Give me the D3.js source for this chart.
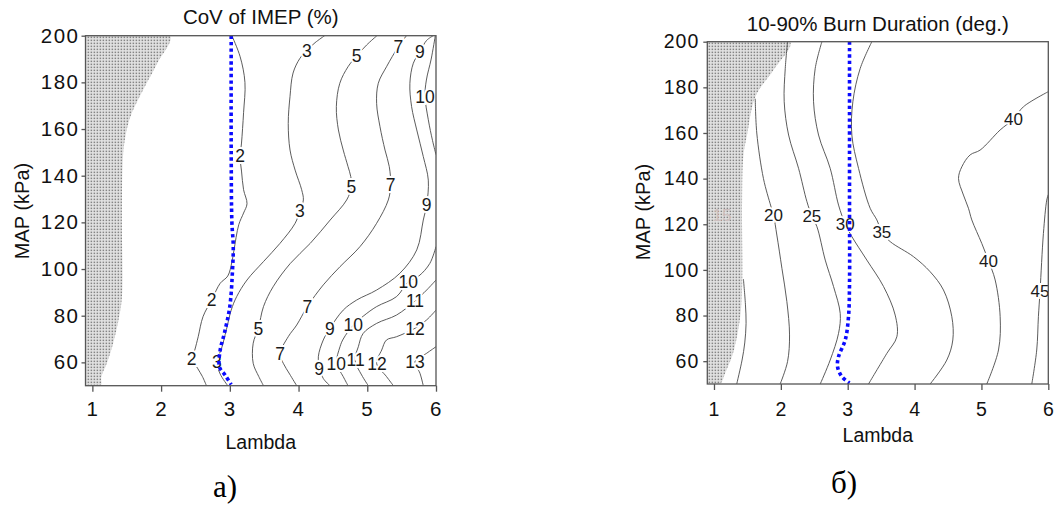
<!DOCTYPE html>
<html>
<head>
<meta charset="utf-8">
<script src="https://cdn.jsdelivr.net/npm/d3@7"></script>
<style>
  body { margin: 0; background: #fff; }
</style>
</head>
<body>
<svg id="chart" width="1057" height="513"></svg>
<script>
// axes
var lambdaTicks = [1, 2, 3, 4, 5, 6];
var mapTicks = [60, 80, 100, 120, 140, 160, 180, 200];
var lambdaDomain = [0.9, 6];
var mapDomain = [50, 200];

// ---- a) CoV of IMEP (%) : contour lines as [lambda, MAP] ----
var covShade = [[2.13,200],[1.94,188],[1.69,174],[1.55,165],[1.47,155],[1.44,145],[1.43,120],[1.43,88],[1.38,78],[1.30,68],[1.21,59.6],[1.13,53.8],[1.12,50]];
var covBlue = [[3.02,200],[3.02,150],[3.03,120],[3.05,110],[3.04,100],[3.0,84],[2.92,72.4],[2.86,65.3],[2.85,58],[2.93,54.6],[3.02,50.5]];
var cov2 = [[3.03,200],[3.15,191],[3.22,180],[3.2,167],[3.17,154],[3.15,148],[3.17,142],[3.2,134],[3.25,128],[3.2,124],[3.13,119],[3.06,108],[3.03,103],[2.97,97],[2.86,93.9],[2.74,87],[2.61,79.6],[2.54,71],[2.49,65.3],[2.45,61.7],[2.53,57.5],[2.6,54],[2.66,50]];
var cov3 = [[4.38,200],[4.24,197],[4.12,193.6],[4.02,190.3],[3.92,184],[3.876,174],[3.85,162.4],[3.876,151],[3.95,142.4],[4.045,134],[4.07,129.6],[4.02,125],[3.95,119.6],[3.73,111],[3.49,103.2],[3.25,95.3],[3.1,88.2],[3.02,82.4],[2.95,74],[2.88,66],[2.81,60.3],[2.86,55],[2.97,50]];
var cov5 = [[5.14,200],[4.99,196],[4.845,191.3],[4.72,186.7],[4.6,179.6],[4.55,169.6],[4.58,159.6],[4.65,151],[4.72,143.9],[4.76,139.6],[4.77,135.3],[4.70,129.6],[4.46,121],[4.17,111],[3.88,102.4],[3.63,92.4],[3.49,83.9],[3.415,74.6],[3.34,68.2],[3.34,59.6],[3.42,54],[3.49,50]];
var cov7 = [[5.57,200],[5.452,195.3],[5.28,186.7],[5.16,179.6],[5.136,171],[5.185,161],[5.258,151],[5.32,143.9],[5.34,136],[5.306,129.6],[5.136,119.6],[4.894,109.6],[4.603,101],[4.36,93.2],[4.128,83.9],[3.973,76],[3.85,71],[3.73,63.6],[3.778,59.6],[3.87,55],[3.973,50]];
var cov9 = [[5.96,200],[5.864,198],[5.767,193.2],[5.67,188.2],[5.62,179.6],[5.645,169.6],[5.72,159.6],[5.815,148.2],[5.888,138.1],[5.864,127.5],[5.815,121],[5.72,108.2],[5.475,98.2],[5.136,91],[4.845,86.7],[4.65,82.4],[4.457,74.6],[4.36,69.6],[4.288,62.4],[4.31,57.4],[4.36,53.1],[4.457,50]];
var cov10a = [[5.99,200],[5.93,190],[5.86,181],[5.84,174],[5.888,164],[5.95,155],[6.0,149]];
var cov10b = [[6.0,109.6],[5.91,102.4],[5.75,97],[5.597,94.6],[5.427,88.2],[5.136,83.9],[4.95,80],[4.797,76],[4.65,70],[4.603,66.7],[4.554,59.6],[4.65,53.9],[4.72,50]];
var cov11 = [[6.0,95.3],[5.864,91],[5.694,86.3],[5.427,80.3],[5.136,76.7],[4.94,72.4],[4.87,66.7],[4.82,61],[4.918,54.6],[5.015,50]];
var cov12 = [[6.0,82.4],[5.864,78.2],[5.694,74.6],[5.427,71],[5.28,69.6],[5.21,65.3],[5.136,59.6],[5.28,53.9],[5.38,50]];
var cov13 = [[6.0,66.7],[5.864,63.9],[5.694,60.3],[5.767,55.3],[5.815,50]];
var covLabels = [
  [4.12,193.6,"3"],[4.845,191.3,"5"],[5.452,195.3,"7"],[5.767,193.2,"9"],[5.84,174,"10"],
  [3.15,148.4,"2"],[4.77,135.3,"5"],[5.34,136,"7"],[5.864,127.5,"9"],[4.02,125,"3"],
  [5.597,94.6,"10"],[5.694,86.3,"11"],[5.694,74.6,"12"],[5.694,60.3,"13"],
  [4.457,74.6,"9"],[4.797,76,"10"],[4.128,83.9,"7"],[3.415,74.6,"5"],[3.73,63.6,"7"],
  [2.736,87,"2"],[2.445,61.7,"2"],[2.81,60.3,"3"],[4.3,57.4,"9"],[4.55,59.6,"10"],
  [4.83,61,"11"],[5.14,59.6,"12"]
];

// ---- б) 10-90% Burn Duration (deg.) ----
var bdShade = [[2.14,200],[1.9,188],[1.62,176],[1.5,160],[1.44,150],[1.42,130],[1.42,92],[1.39,79],[1.29,64],[1.17,55],[1.09,50]];
var bdBlue = [[3.027,200],[3.027,130],[3.027,94],[3.012,79.5],[2.963,69.3],[2.863,62],[2.848,57.6],[2.913,53.2],[3.027,50.4]];
var bd15 = [[1.44,96],[1.47,85],[1.48,76.6],[1.46,68],[1.42,60.5],[1.34,50]];
var bd20 = [[1.617,175],[1.64,160],[1.74,140],[1.85,128],[1.89,124],[1.94,115.3],[2.016,100.7],[2.09,86.1],[2.13,71.5],[2.1,59.8],[1.99,50]];
var bd25 = [[2.10,200],[2.066,188.3],[2.05,173.7],[2.116,159.1],[2.265,144.5],[2.39,129.9],[2.464,123.6],[2.54,118.9],[2.664,104.3],[2.788,92.7],[2.888,80.9],[2.863,72.2],[2.738,60.5],[2.589,50]];
var bd30 = [[2.614,200],[2.514,188.3],[2.489,173.7],[2.564,159.1],[2.738,144.5],[2.863,128.4],[2.963,120.1],[3.062,114.6],[3.286,104.3],[3.536,92.7],[3.71,80.2],[3.735,70.7],[3.585,63.4],[3.311,50]];
var bd35 = [[3.361,200],[3.187,188.3],[3.077,173.7],[3.062,159.1],[3.162,144.5],[3.336,127],[3.436,121.9],[3.511,116.5],[3.635,112.4],[3.984,105.8],[4.233,99.2],[4.432,91.2],[4.557,79.5],[4.572,69.3],[4.482,60.5],[4.233,50]];
var bd40 = [[6.0,178.1],[5.628,171.5],[5.479,166.1],[5.279,161.3],[4.98,152.5],[4.831,150.4],[4.707,145.2],[4.657,140.1],[4.731,132.8],[4.806,127],[4.856,121.9],[5.005,111.6],[5.105,104],[5.205,95.6],[5.28,79.5],[5.255,64.9],[5.08,50]];
var bd45 = [[6.0,133],[5.977,130.6],[5.927,116],[5.877,90.9],[5.852,79.5],[5.827,64.9],[5.753,50]];
var bdLabels = [
  [1.89,124,"20"],[2.464,123.6,"25"],[2.963,120.1,"30"],[3.511,116.5,"35"],
  [5.479,166.1,"40"],[5.105,104,"40"],[5.877,90.9,"45"]
];
var bdFaintLabels = [[1.12,124,"15"]];

var sans = "Arial, 'Liberation Sans', sans-serif";
var serif = "'Liberation Serif', 'Times New Roman', serif";

var svg = d3.select("#chart");

// stipple pattern for the no-data area
var defs = svg.append("defs");
var pat = defs.append("pattern")
  .attr("id", "stipple")
  .attr("patternUnits", "userSpaceOnUse")
  .attr("width", 3)
  .attr("height", 3);
pat.append("rect").attr("width", 3).attr("height", 3).attr("fill", "#e2e2e2");
pat.append("rect").attr("x", 0.6).attr("y", 0.6).attr("width", 1.5).attr("height", 1.5).attr("fill", "#858585");

function drawPanel(p) {
  var x = d3.scaleLinear().domain(lambdaDomain).range([p.left, p.right]);
  var y = d3.scaleLinear().domain(mapDomain).range([p.bottom, p.top]);
  var smooth = d3.line().x(d => x(d[0])).y(d => y(d[1])).curve(d3.curveCatmullRom.alpha(0.5));

  defs.append("clipPath")
    .attr("id", p.id + "-clip")
    .append("rect")
    .attr("x", p.left)
    .attr("y", p.top)
    .attr("width", p.right - p.left)
    .attr("height", p.bottom - p.top);

  var plot = svg.append("g").attr("clip-path", "url(#" + p.id + "-clip)");

  // shaded region
  var shadePts = [[lambdaDomain[0], mapDomain[1]]].concat(p.shade, [[lambdaDomain[0], mapDomain[0]]]);
  plot.append("path")
    .attr("d", smooth(shadePts) + "Z")
    .attr("fill", "url(#stipple)");

  // contour lines
  plot.selectAll("path.contour")
    .data(p.contours)
    .enter()
    .append("path")
    .attr("class", "contour")
    .attr("d", d => smooth(d.pts))
    .attr("fill", "none")
    .attr("stroke", "#4a4a4a")
    .attr("stroke-width", 0.9);

  // contour labels with white halo (gap in line)
  plot.selectAll("text.clabel")
    .data(p.labels)
    .enter()
    .append("text")
    .attr("class", "clabel")
    .attr("x", d => x(d[0]))
    .attr("y", d => y(d[1]))
    .attr("dy", "0.36em")
    .attr("text-anchor", "middle")
    .style("font-family", sans)
    .style("font-size", p.labelSize + "px")
    .attr("fill", "#1a1a1a")
    .attr("stroke", "#fff")
    .attr("stroke-width", 4)
    .attr("paint-order", "stroke")
    .text(d => d[2]);

  plot.selectAll("text.flabel")
    .data(p.faint || [])
    .enter()
    .append("text")
    .attr("class", "flabel")
    .attr("x", d => x(d[0]))
    .attr("y", d => y(d[1]))
    .attr("dy", "0.36em")
    .attr("text-anchor", "middle")
    .style("font-family", sans)
    .style("font-size", p.labelSize + "px")
    .attr("fill", "#cdbfbf")
    .text(d => d[2]);

  // blue dotted line
  plot.append("path")
    .datum(p.blue)
    .attr("d", smooth)
    .attr("fill", "none")
    .attr("stroke", "#0a0aff")
    .attr("stroke-width", 3.6)
    .attr("stroke-dasharray", "3.4,3");

  // frame
  svg.append("rect")
    .attr("x", p.left)
    .attr("y", p.top)
    .attr("width", p.right - p.left)
    .attr("height", p.bottom - p.top)
    .attr("fill", "none")
    .attr("stroke", "#555")
    .attr("stroke-width", 1.3);

  var xAxis = d3.axisBottom(x).tickValues(lambdaTicks).tickFormat(d3.format("d"))
    .tickSize(6).tickPadding(p.xPad).tickSizeOuter(0);
  var gx = svg.append("g")
    .attr("transform", "translate(0," + p.bottom + ")")
    .call(xAxis);
  gx.select(".domain").remove();
  gx.selectAll("line").attr("stroke", "#555").attr("stroke-width", 1.3);
  gx.selectAll("text")
    .style("font-family", sans)
    .style("font-size", p.tickSize + "px")
    .style("letter-spacing", p.tickSpacing + "px")
    .attr("fill", "#111");

  var yAxis = d3.axisLeft(y).tickValues(mapTicks).tickSize(4).tickPadding(p.yPad).tickSizeOuter(0);
  var gy = svg.append("g")
    .attr("transform", "translate(" + p.left + ",0)")
    .call(yAxis);
  gy.select(".domain").remove();
  gy.selectAll("line").attr("stroke", "#555").attr("stroke-width", 1.3);
  gy.selectAll("text")
    .style("font-family", sans)
    .style("font-size", p.tickSize + "px")
    .style("letter-spacing", p.tickSpacing + "px")
    .attr("fill", "#111");

  // titles
  svg.append("text")
    .attr("x", (p.left + p.right) / 2)
    .attr("y", p.titleY)
    .attr("text-anchor", "middle")
    .style("font-family", sans)
    .style("font-size", "20.5px")
    .attr("fill", "#111")
    .text(p.title);

  svg.append("text")
    .attr("x", (p.left + p.right) / 2)
    .attr("y", p.xLabelY)
    .attr("text-anchor", "middle")
    .style("font-family", sans)
    .style("font-size", "19.5px")
    .attr("fill", "#111")
    .text("Lambda");

  svg.append("text")
    .attr("transform", "translate(" + p.yLabelX + "," + p.yLabelY + ") rotate(-90)")
    .attr("text-anchor", "middle")
    .style("font-family", sans)
    .style("font-size", "20px")
    .attr("fill", "#111")
    .text("MAP (kPa)");

  svg.append("text")
    .attr("x", p.capX)
    .attr("y", p.capY)
    .attr("text-anchor", "middle")
    .style("font-family", serif)
    .style("font-size", "31px")
    .attr("fill", "#000")
    .text(p.caption);
}

drawPanel({
  id: "a", left: 85.5, right: 436, top: 35.7, bottom: 385.7,
  shade: covShade, blue: covBlue,
  contours: [
    {level: 2, pts: cov2}, {level: 3, pts: cov3}, {level: 5, pts: cov5},
    {level: 7, pts: cov7}, {level: 9, pts: cov9}, {level: 10, pts: cov10a},
    {level: 10, pts: cov10b}, {level: 11, pts: cov11}, {level: 12, pts: cov12},
    {level: 13, pts: cov13}
  ],
  labels: covLabels, labelSize: 17.5,
  tickSize: 20.5, tickSpacing: 1.5, xPad: 10, yPad: 2,
  title: "CoV of IMEP (%)", titleY: 24,
  xLabelY: 449, yLabelX: 29, yLabelY: 211,
  caption: "a)", capX: 225, capY: 497
});

drawPanel({
  id: "b", left: 707.3, right: 1048.3, top: 41.7, bottom: 384,
  shade: bdShade, blue: bdBlue,
  contours: [
    {level: 15, pts: bd15}, {level: 20, pts: bd20}, {level: 25, pts: bd25},
    {level: 30, pts: bd30}, {level: 35, pts: bd35}, {level: 40, pts: bd40},
    {level: 45, pts: bd45}
  ],
  labels: bdLabels, faint: bdFaintLabels, labelSize: 17,
  tickSize: 19.5, tickSpacing: 1, xPad: 12, yPad: 4,
  title: "10-90% Burn Duration (deg.)", titleY: 31,
  xLabelY: 442, yLabelX: 650, yLabelY: 212,
  caption: "б)", capX: 844, capY: 493
});
</script>
</body>
</html>
